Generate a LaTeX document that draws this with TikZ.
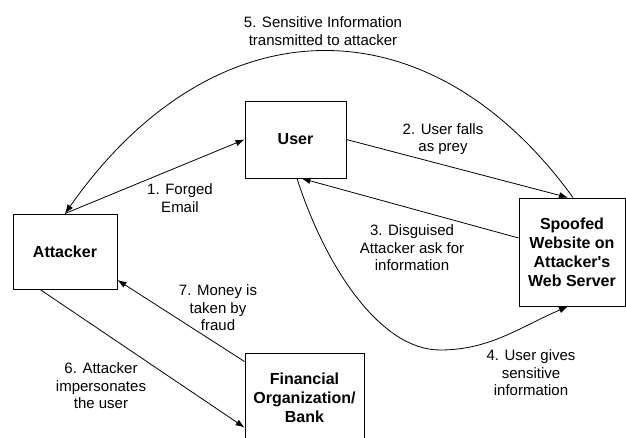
\documentclass[tikz,border=0pt]{standalone}
\usepackage{fontspec}
\setmainfont[Ligatures=NoCommon]{Liberation Sans}
\usetikzlibrary{arrows.meta,calc}
\tikzset{
  box/.style={draw=black,line width=0.9pt,align=center,inner sep=0pt,
    font=\fontsize{16}{19}\selectfont\bfseries},
  lbl/.style={align=center,inner sep=0pt,font=\fontsize{15}{17.5}\selectfont},
  conn/.style={line width=0.8pt,-{Latex[length=9pt,width=6.5pt]}}
}
\begin{document}
\begin{tikzpicture}[x=1pt,y=-1pt]
\useasboundingbox (0,0) rectangle (626,438);
% boxes
\node[box,minimum width=101pt,minimum height=77pt] (user) at (295.5,139.5) {User};
\node[box,minimum width=104pt,minimum height=75pt] (attacker) at (65,251.5) {Attacker};
\node[box,minimum width=106pt,minimum height=108pt] (spoof) at (572,252) {Spoofed\\Website on\\Attacker\textquotesingle s\\Web Server};
\node[box,minimum width=119pt,minimum height=89pt] (bank) at (304.5,397.5) {Financial\\Organization/\\Bank};
% connectors
\draw[conn] (attacker.north) -- (user.west);
\draw[conn] (user.east) -- ($(spoof.north)+(-4,0)$);
\draw[conn] ($(spoof.north)+(1,0)$) .. controls (430,0) and (215,0) .. (attacker.north);
\draw[conn] ($(spoof.west)+(0,-14)$) -- ($(user.south)+(6,0)$);
\coordinate (low) at (440,350);
\draw[conn] ($(user.south)+(1.5,0)$) .. controls (325,266) and (380,350) .. (low)
   .. controls (490,350) and (520,327) .. ($(spoof.south)+(-4,0)$);
\draw[conn] ($(attacker.south)+(-25,0)$) -- ($(bank.west)+(0,30)$);
\draw[conn] ($(bank.north west)+(0,9)$) -- ($(attacker.east)+(0,28.5)$);
% labels
\node[lbl] (l5) at (323,31) {5. Sensitive Information\\transmitted to attacker};
\node[lbl] (l2) at (443,139) {2. User falls\\as prey};
\node[lbl] (l1) at (180,198) {1. Forged\\Email};
\node[lbl] (l3) at (412,248) {3. Disguised\\Attacker ask for\\information};
\node[lbl] (l7) at (218,308) {7. Money is\\taken by\\fraud};
\node[lbl] (l6) at (101,386) {6. Attacker\\impersonates\\the user};
\node[lbl] (l4) at (531,373) {4. User gives\\sensitive\\information};
\end{tikzpicture}
\end{document}
